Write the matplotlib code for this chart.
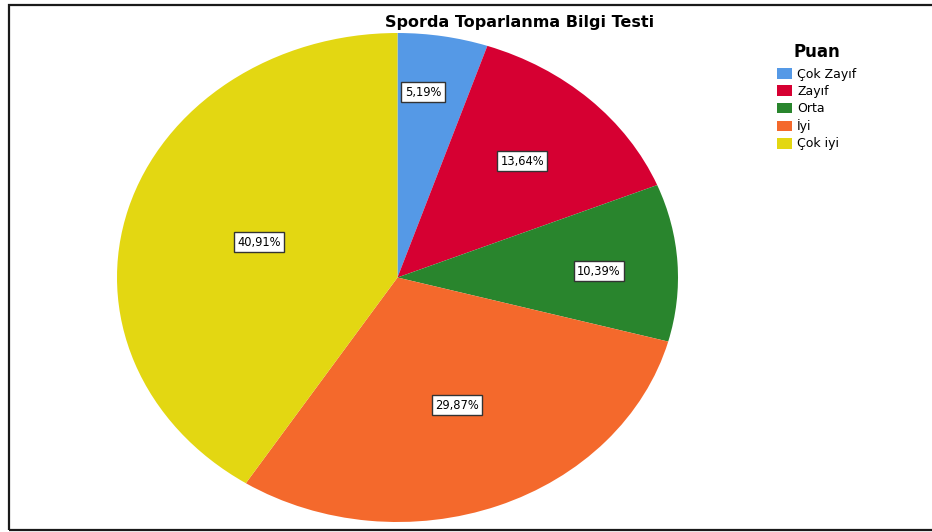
import math
import matplotlib
matplotlib.use("Agg")
import matplotlib.pyplot as plt
from matplotlib.patches import Rectangle

title = "Sporda Toparlanma Bilgi Testi"
legend_title = "Puan"
categories = ["Çok Zayıf", "Zayıf", "Orta", "İyi", "Çok iyi"]
percentages = [5.19, 13.64, 10.39, 29.87, 40.91]
colors = ["#5599E6", "#D60032", "#29852D", "#F4692C", "#E3D712"]

# label placement (style): radial fraction and angle nudge per slice
label_r = [0.764, 0.651, 0.719, 0.563, 0.515]
label_dang = [2.5, 0.2, -1.4, 1.1, 0.0]

plt.rcParams['font.family'] = ['DejaVu Sans']

W, H = 932, 532
fig = plt.figure(figsize=(W / 100, H / 100), dpi=100)
fig.patch.set_facecolor("white")

# outer frame
fig.patches.append(Rectangle((9 / W, (H - 530) / H), 1.2, (530 - 5) / H,
                             transform=fig.transFigure, fill=False,
                             edgecolor="#1a1a1a", linewidth=1.6))

ax = fig.add_axes([117 / W, 10 / H, 561 / W, 489 / H])
wedges, _ = ax.pie(percentages, colors=colors, startangle=90,
                   counterclock=False, radius=1,
                   wedgeprops=dict(linewidth=0))
ax.set_aspect('auto')
ax.set_xlim(-1, 1)
ax.set_ylim(-1, 1)
ax.axis('off')

for w, p, r, da in zip(wedges, percentages, label_r, label_dang):
    mid = math.radians((w.theta1 + w.theta2) / 2 + da)
    ax.text(r * math.cos(mid), r * math.sin(mid),
            f"{p:.2f}".replace('.', ',') + "%",
            ha='center', va='center', fontsize=8.3, color='black',
            bbox=dict(boxstyle='square,pad=0.3', facecolor='white',
                      edgecolor='#333333', linewidth=1.0))

fig.text(520 / W, 1 - 22 / H, title, ha='center', va='center',
         fontsize=11.5, fontweight='bold', color='black')

leg = fig.legend(wedges, categories, title=legend_title,
                 loc='upper left', bbox_to_anchor=(777 / W, 1 - 43 / H),
                 frameon=False, fontsize=9, handlelength=1.2,
                 handleheight=0.95, handletextpad=0.4, labelspacing=0.33,
                 borderaxespad=0, borderpad=0)
leg.get_title().set_fontweight('bold')
leg.get_title().set_fontsize(12)
leg._legend_box.sep = 5

fig.savefig("out.png", dpi=100, facecolor="white")
